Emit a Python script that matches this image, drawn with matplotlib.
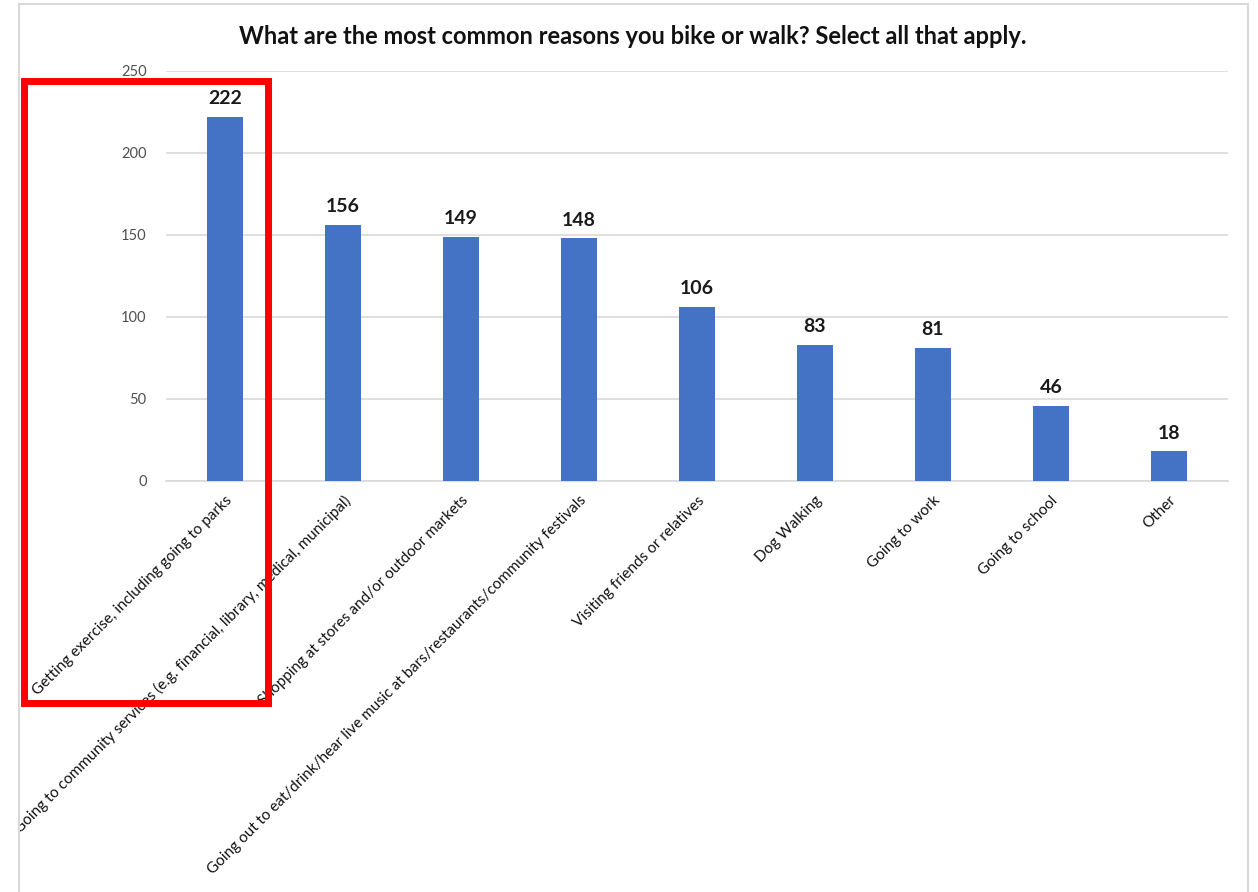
import matplotlib
matplotlib.use('Agg')
import matplotlib.pyplot as plt
from matplotlib.patches import Rectangle
from matplotlib.transforms import Bbox, TransformedBbox

plt.rcParams['font.family'] = ['Lato', 'DejaVu Sans']

reasons = [
    'Getting exercise, including going to parks',
    'Going to community services (e.g. financial, library, medical, municipal)',
    'Shopping at stores and/or outdoor markets',
    'Going out to eat/drink/hear live music at bars/restaurants/community festivals',
    'Visiting friends or relatives',
    'Dog Walking',
    'Going to work',
    'Going to school',
    'Other',
]
counts = [222, 156, 149, 148, 106, 83, 81, 46, 18]
y_ticks = [0, 50, 100, 150, 200, 250]

W, H = 1258, 892
fig = plt.figure(figsize=(W / 100, H / 100), dpi=100)
ax = fig.add_axes([166 / W, 1 - 481 / H, (1228 - 166) / W, (481 - 71) / H])

x = range(len(reasons))
bars = ax.bar(x, counts, width=0.31, color='#4472C4', zorder=3)

for b, v in zip(bars, counts):
    ax.annotate(str(v), (b.get_x() + b.get_width() / 2, v), xytext=(0, 7),
                textcoords='offset points', ha='center', va='bottom',
                fontsize=14, fontweight='bold', color='#1a1a1a')

ax.set_xlim(-0.5, len(reasons) - 0.5)
ax.set_ylim(0, 250)
ax.set_yticks(y_ticks)
ax.yaxis.grid(True, color='#d9d9d9', lw=1.2, zorder=0)
ax.tick_params(axis='y', length=0, pad=14, labelsize=10.5, labelcolor='#505050')
ax.tick_params(axis='x', length=0, pad=9)
for s in ['top', 'right', 'left']:
    ax.spines[s].set_visible(False)
ax.spines['bottom'].set_color('#d9d9d9')
ax.spines['bottom'].set_linewidth(1.2)

# chart area frame; long labels get cut at its left edge
clip = TransformedBbox(Bbox([[19 / W, 0], [1248 / W, 1 - 4 / H]]), fig.transFigure)
ax.set_xticks(list(x))
ax.set_xticklabels(reasons, rotation=45, ha='right', va='top',
                   rotation_mode='anchor', fontsize=11, color='#111111')
for t in ax.get_xticklabels():
    t.set_clip_box(clip)
    t.set_clip_on(True)

fig.patches.append(Rectangle((19 / W, -0.1), (1248 - 19) / W, 1.1 - 4 / H,
                             transform=fig.transFigure, fill=False,
                             ec='#d9d9d9', lw=1.5))

fig.text(633 / W, 1 - 37 / H,
         'What are the most common reasons you bike or walk? Select all that apply.',
         ha='center', va='center', fontsize=17, fontweight='bold', color='#111111')

# highlight around the top answer
fig.patches.append(Rectangle((23.5 / W, 1 - 702.5 / H), 244 / W, 622 / H,
                             transform=fig.transFigure, fill=False,
                             ec='#ff0000', lw=5, zorder=10))

fig.savefig('out.png', dpi=100, facecolor='white')
